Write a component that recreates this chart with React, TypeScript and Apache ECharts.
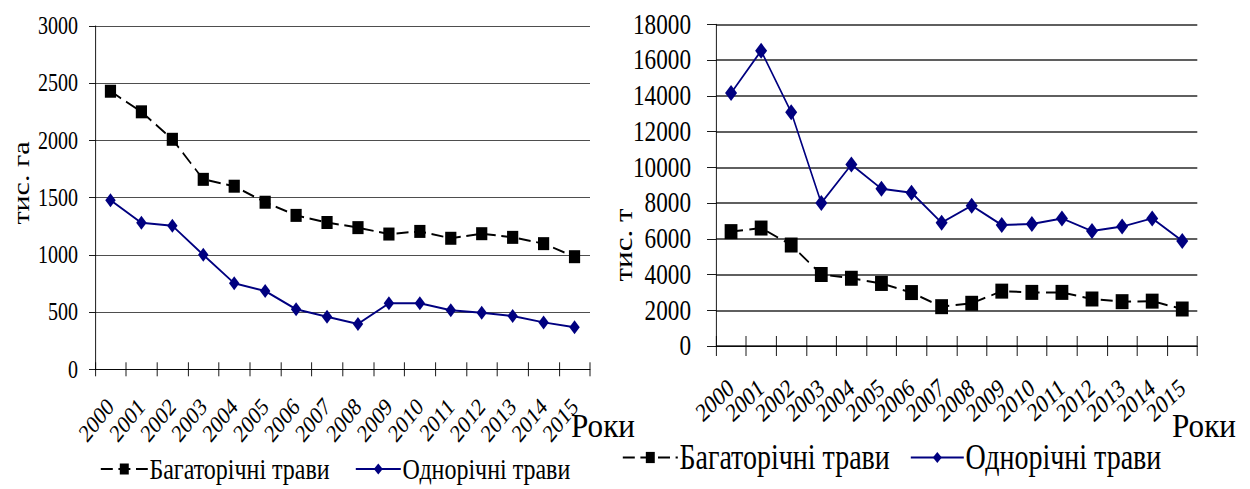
import React, { useEffect, useRef } from "react";
import * as echarts from "echarts";

// Years on the category axis
const years = [
  "2000", "2001", "2002", "2003", "2004", "2005", "2006", "2007",
  "2008", "2009", "2010", "2011", "2012", "2013", "2014", "2015",
];

// Area, thousand hectares
const areaPerennial = [2430, 2250, 2010, 1660, 1600, 1460, 1345, 1283, 1238, 1182, 1205, 1145, 1185, 1153, 1098, 984];
const areaAnnual = [1478, 1280, 1255, 1000, 752, 684, 525, 460, 396, 577, 577, 516, 495, 466, 410, 367];

// Yield, thousand tonnes
const yieldPerennial = [6400, 6600, 5650, 4000, 3790, 3500, 2990, 2200, 2390, 3070, 3000, 3000, 2630, 2480, 2510, 2070];
const yieldAnnual = [14150, 16520, 13080, 8000, 10150, 8800, 8580, 6900, 7850, 6770, 6830, 7140, 6430, 6680, 7140, 5880];

const seriesNames = ["Багаторічні трави", "Однорічні трави"];

const FONT = "'Liberation Serif', 'Times New Roman', serif";
const NAVY = "#000080";

// The figure is typeset in a narrow, horizontally condensed style:
// the canvas is drawn wider and squeezed back to the page width.
const PAGE_W = 1250;
const PAGE_H = 489;
const SQUEEZE = 0.8;
const CANVAS_W = PAGE_W / SQUEEZE;
const X = (px: number) => px / SQUEEZE;

const plain = (v: number) => String(v);

export default function App() {
  const ref = useRef<HTMLDivElement>(null);

  useEffect(() => {
    if (!ref.current) return;
    const chart = echarts.init(ref.current, null, {
      renderer: "svg",
      width: CANVAS_W,
      height: PAGE_H,
    });

    const xAxisPair = (gridIndex: number, fontSize: number, rotate: number, margin: number, tickLen: number) => [
      {
        type: "category",
        gridIndex,
        position: "bottom",
        data: years,
        boundaryGap: true,
        axisLine: { lineStyle: { color: "#000", width: 1 } },
        axisTick: { show: true, length: tickLen, lineStyle: { color: "#000" } },
        axisLabel: {
          interval: 0,
          rotate,
          margin,
          fontFamily: FONT,
          fontSize,
          color: "#000",
        },
      },
      {
        type: "category",
        gridIndex,
        position: "bottom",
        data: years,
        boundaryGap: true,
        axisLine: { show: false },
        axisTick: { show: true, inside: true, length: tickLen, lineStyle: { color: "#000" } },
        axisLabel: { show: false },
      },
    ];

    const legendItem = (name: string, left: number, top: number, itemWidth: number, fontSize: number) => ({
      data: [name],
      left: X(left),
      top,
      itemWidth: X(itemWidth),
      itemHeight: 14,
      itemGap: 0,
      padding: 0,
      textStyle: { fontFamily: FONT, fontSize, color: "#000", padding: [0, 0, 0, -3] },
    });

    const caption = (text: string, x: number, y: number, fontSize: number, rotated: boolean, widen = 1) => ({
      type: "text",
      x: X(x),
      y,
      rotation: rotated ? Math.PI / 2 : 0,
      scaleX: widen,
      style: {
        text,
        fontFamily: FONT,
        fontSize,
        fill: "#000",
        align: "center",
        verticalAlign: "middle",
      },
    });

    const option: any = {
      animation: false,
      backgroundColor: "#fff",
      textStyle: { fontFamily: FONT, color: "#000" },
      grid: [
        { left: X(95), right: CANVAS_W - X(590), top: 26, bottom: PAGE_H - 369.3 },
        { left: X(716), right: CANVAS_W - X(1197.3), top: 24.3, bottom: PAGE_H - 346 },
      ],
      xAxis: [
        ...xAxisPair(0, 25, 45, 33, 7),
        ...xAxisPair(1, 26, 38, 38, 10),
      ],
      yAxis: [
        {
          type: "value",
          gridIndex: 0,
          min: 0,
          max: 3000,
          interval: 500,
          axisLine: { show: true, lineStyle: { color: "#000", width: 1 } },
          axisTick: { show: true, length: X(6), lineStyle: { color: "#000" } },
          splitLine: { lineStyle: { color: "#3a3a3a", width: 1 } },
          axisLabel: { margin: X(17), fontFamily: FONT, fontSize: 25, color: "#000", formatter: plain },
        },
        {
          type: "value",
          gridIndex: 1,
          min: 0,
          max: 18000,
          interval: 2000,
          axisLine: { show: true, lineStyle: { color: "#000", width: 1 } },
          axisTick: { show: true, length: X(9), lineStyle: { color: "#000" } },
          splitLine: { lineStyle: { color: "#2a2a2a", width: 1.5 } },
          axisLabel: { margin: X(25), fontFamily: FONT, fontSize: 29, color: "#000", formatter: plain },
        },
      ],
      legend: [
        legendItem(seriesNames[0], 100, 454, 47, 30),
        legendItem(seriesNames[1], 355, 454, 45, 30),
        legendItem(seriesNames[0], 622, 440, 55, 35),
        legendItem(seriesNames[1], 910, 440, 53, 35),
      ],
      series: [
        {
          name: seriesNames[0],
          type: "line",
          xAxisIndex: 0,
          yAxisIndex: 0,
          data: areaPerennial,
          symbol: "rect",
          symbolSize: [14, 13],
          itemStyle: { color: "#000" },
          lineStyle: { color: "#000", width: 2, type: [15, 7] },
        },
        {
          name: seriesNames[1],
          type: "line",
          xAxisIndex: 0,
          yAxisIndex: 0,
          data: areaAnnual,
          symbol: "diamond",
          symbolSize: [13, 14],
          itemStyle: { color: NAVY },
          lineStyle: { color: NAVY, width: 2 },
        },
        {
          name: seriesNames[0],
          type: "line",
          xAxisIndex: 2,
          yAxisIndex: 1,
          data: yieldPerennial,
          symbol: "rect",
          symbolSize: [16, 15],
          itemStyle: { color: "#000" },
          lineStyle: { color: "#000", width: 2, type: [15, 8] },
        },
        {
          name: seriesNames[1],
          type: "line",
          xAxisIndex: 2,
          yAxisIndex: 1,
          data: yieldAnnual,
          symbol: "diamond",
          symbolSize: [15, 16],
          itemStyle: { color: NAVY },
          lineStyle: { color: NAVY, width: 2 },
        },
      ],
      graphic: [
        caption("тис. га", 21, 183, 30, true),
        caption("тис. т", 624, 245, 31, true),
        caption("Роки", 603, 426, 33, false, 1.18),
        caption("Роки", 1204, 426, 33, false, 1.18),
      ],
    };

    chart.setOption(option);
    return () => chart.dispose();
  }, []);

  return (
    <div
      style={{
        position: "absolute",
        left: 0,
        top: 0,
        width: PAGE_W,
        height: PAGE_H,
        overflow: "hidden",
        background: "#fff",
      }}
    >
      <div
        ref={ref}
        style={{
          width: CANVAS_W,
          height: PAGE_H,
          transform: `scaleX(${SQUEEZE})`,
          transformOrigin: "0 0",
        }}
      />
    </div>
  );
}
